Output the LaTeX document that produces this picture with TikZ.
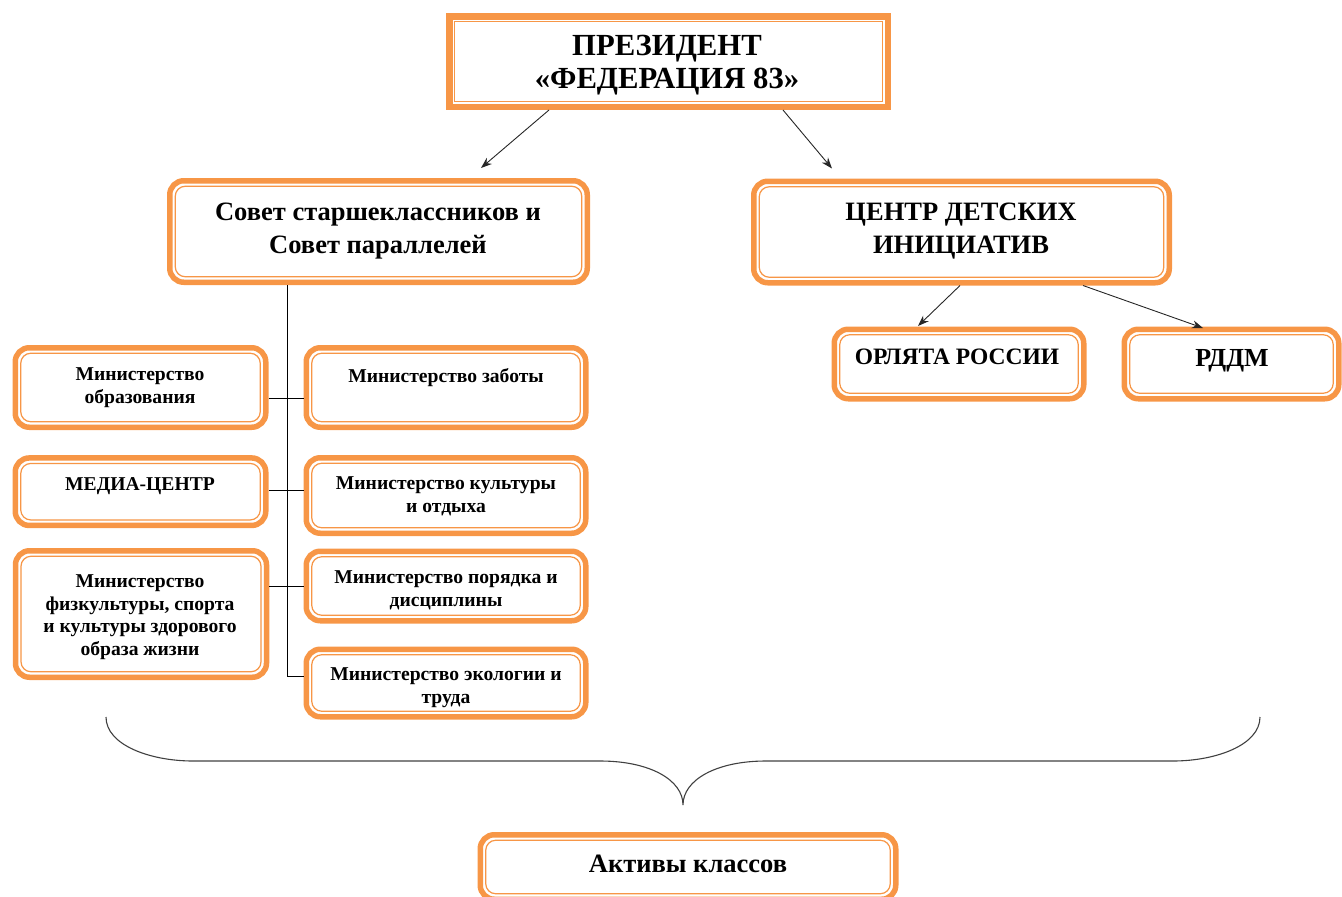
\documentclass[tikz,border=0pt]{standalone}
\usepackage{fontspec}
\setmainfont{Liberation Serif}
\usetikzlibrary{arrows.meta,calc}
\definecolor{boxorange}{RGB}{247,150,70}
\tikzset{
  rbox/.style={draw=boxorange, line width=5.5, rounded corners=14, fill=white,
    inner sep=0, path picture={\draw[boxorange, line width=1.2, rounded corners=10]
      ([shift={(5.5pt,-5.5pt)}]path picture bounding box.north west) rectangle
      ([shift={(-5.5pt,5.5pt)}]path picture bounding box.south east);}},
  sbox/.style={draw=boxorange, line width=6.5, fill=white,
    inner sep=0, path picture={\draw[boxorange, line width=1.2]
      ([shift={(5.5pt,-5.5pt)}]path picture bounding box.north west) rectangle
      ([shift={(-5.5pt,5.5pt)}]path picture bounding box.south east);}},
  txt/.style={inner sep=0, anchor=base, align=center, font=\bfseries},
  big/.style={font=\fontsize{30.7}{33}\selectfont\bfseries},
  mid/.style={font=\fontsize{26.5}{33}\selectfont\bfseries},
  med/.style={font=\fontsize{23.5}{26}\selectfont\bfseries},
  sml/.style={font=\fontsize{19.6}{22.5}\selectfont\bfseries},
  arr/.style={-{Stealth[length=11pt,width=8pt]}, line width=0.9, black!85},
  conn/.style={line width=0.9, black},
  brace/.style={line width=1.1, black!75}
}
\begin{document}
\begin{tikzpicture}[x=1pt,y=-1pt]
\useasboundingbox (0,0) rectangle (1342,897);
% boxes
\node[sbox, minimum width=438.5, minimum height=90.5] (pres) at (668.5,61.5) {};
\node[rbox, minimum width=417.5, minimum height=101.5] (sovet) at (378.5,231.5) {};
\node[rbox, minimum width=415.5, minimum height=101.5] (centr) at (961.5,232) {};
\node[rbox, minimum width=249.5, minimum height=69.5] (orl) at (959,364) {};
\node[rbox, minimum width=214.5, minimum height=69.5] (rddm) at (1231.5,364) {};
\node[rbox, minimum width=250.5, minimum height=79.5] (obraz) at (140.5,387.5) {};
\node[rbox, minimum width=250.5, minimum height=67.5] (media) at (140.5,491.7) {};
\node[rbox, minimum width=251, minimum height=126.5] (fizra) at (141,614) {};
\node[rbox, minimum width=279.5, minimum height=79.5] (zabota) at (446,387.5) {};
\node[rbox, minimum width=279.5, minimum height=75.5] (kult) at (446,495.5) {};
\node[rbox, minimum width=279.5, minimum height=69.5] (por) at (446,586) {};
\node[rbox, minimum width=279.5, minimum height=67.5] (eco) at (446,683) {};
\node[rbox, minimum width=415.5, minimum height=64.5] (akt) at (688,867) {};
% texts (base = baseline of the last line)
\node[txt, big] (tpres) at (667,88) {ПРЕЗИДЕНТ\\«ФЕДЕРАЦИЯ 83»};
\node[txt, mid] (tsovet) at (378,253) {Совет старшеклассников и\\Совет параллелей};
\node[txt, mid] (tcentr) at (961,253) {ЦЕНТР ДЕТСКИХ\\ИНИЦИАТИВ};
\node[txt, med] (torl) at (957,364) {ОРЛЯТА РОССИИ};
\node[txt, font=\fontsize{26}{28}\selectfont\bfseries] (trddm) at (1232,366) {РДДМ};
\node[txt, sml] (tobraz) at (140,403) {Министерство\\образования};
\node[txt, sml] (tzabota) at (446,382) {Министерство заботы};
\node[txt, sml] (tmedia) at (140,490) {МЕДИА-ЦЕНТР};
\node[txt, sml] (tkult) at (446,512) {Министерство культуры\\и отдыха};
\node[txt, sml] (tfizra) at (140,655) {Министерство\\физкультуры, спорта\\и культуры здорового\\образа жизни};
\node[txt, sml] (tpor) at (446,606) {Министерство порядка и\\дисциплины};
\node[txt, sml] (teco) at (446,703) {Министерство экологии и\\труда};
\node[txt, mid] (takt) at (688,872) {Активы классов};
% arrows
\draw[arr] ([xshift=-119.5]pres.south) -- ([xshift=102.5,yshift=10]sovet.north);
\draw[arr] ([xshift=114.5]pres.south) -- ([xshift=-129.5,yshift=10]centr.north);
\draw[arr] ([xshift=-1.5]centr.south) -- ([xshift=-41,yshift=0.5]orl.north);
\draw[arr] ([xshift=121.5]centr.south) -- ([xshift=-28.5,yshift=-1.5]rddm.north);
% tree lines
\coordinate (trunk) at ([xshift=-91]sovet.south);
\draw[conn] (trunk) |- ([yshift=6.3]eco.west);
\draw[conn] ([yshift=-10.8]obraz.east) -- ([yshift=-10.8]obraz.east -| zabota.west);
\draw[conn] ([yshift=1.7]media.east) -- ([yshift=1.7]media.east -| kult.west);
\draw[conn] ([yshift=27.3]fizra.east) -- ([yshift=27.3]fizra.east -| por.west);
% brace
\draw[brace] (106,717) .. controls (106,745) and (150,761) .. (193,761) -- (600,761)
  .. controls (650,761) and (683,780) .. (683,805)
  .. controls (683,780) and (716,761) .. (766,761) -- (1173,761)
  .. controls (1216,761) and (1260,745) .. (1260,717);
\end{tikzpicture}
\end{document}
